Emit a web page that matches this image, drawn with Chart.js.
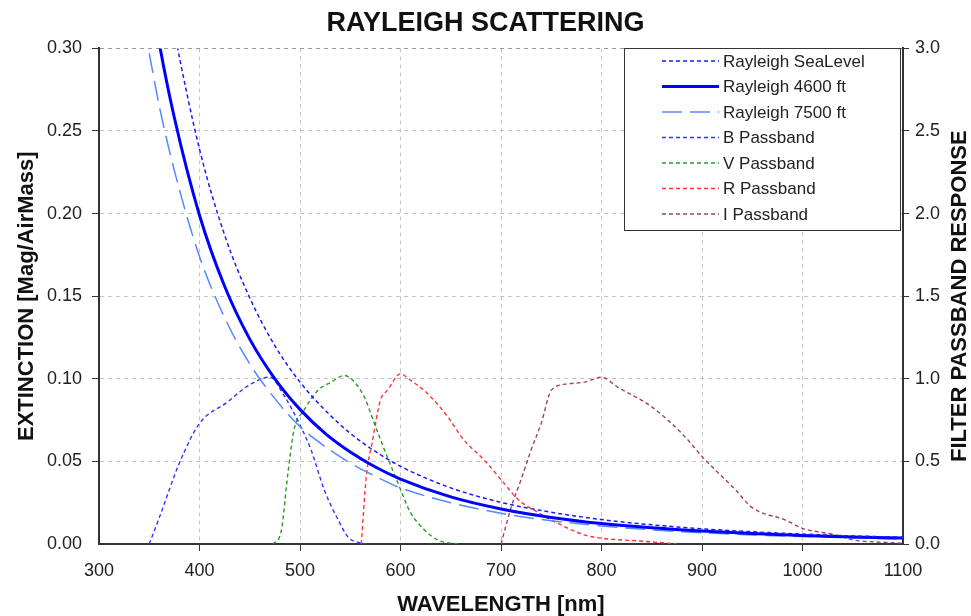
<!DOCTYPE html>
<html>
<head>
<meta charset="utf-8">
<script src="https://cdn.jsdelivr.net/npm/chart.js@4.4.1/dist/chart.umd.min.js"></script>
<style>
  html, body { margin: 0; padding: 0; background: #fff; }
  #wrap { width: 971px; height: 616px; }
</style>
</head>
<body>
<div id="wrap"><canvas id="myChart" width="971" height="616"></canvas></div>
<script>
// wavelengths [nm] for the rayleigh curves
const rayleighWl = [350, 360, 375, 400, 425, 450, 475, 500, 525, 550, 575, 600, 650, 700, 750, 800, 850, 900, 950, 1000, 1050, 1100];
const rayleighSea = [0.41, 0.36, 0.31, 0.239, 0.187, 0.149, 0.120, 0.098, 0.081, 0.067, 0.056, 0.047, 0.034, 0.0252, 0.0192, 0.0148, 0.0116, 0.0092, 0.0074, 0.0060, 0.0049, 0.0041];
const rayleigh4600 = [0.340, 0.303, 0.258, 0.199, 0.156, 0.124, 0.100, 0.0815, 0.067, 0.0557, 0.0466, 0.0393, 0.0285, 0.0212, 0.0161, 0.0124, 0.0098, 0.0078, 0.0063, 0.0051, 0.0042, 0.0036];
const rayleigh7500 = [0.297, 0.265, 0.226, 0.174, 0.137, 0.109, 0.088, 0.071, 0.059, 0.049, 0.041, 0.034, 0.025, 0.0186, 0.0141, 0.0109, 0.0086, 0.0068, 0.0055, 0.0045, 0.0037, 0.0030];

// filter passbands (right axis)
const bWl = [350, 360, 380, 400, 428, 444, 458, 470, 484, 500, 511, 524, 538, 548, 558, 568];
const bResp = [0, 0.16, 0.49, 0.73, 0.86, 0.94, 0.99, 1.01, 0.90, 0.72, 0.57, 0.33, 0.145, 0.04, 0.01, 0];
const vWl = [473, 481, 488, 494, 504, 518, 531, 544, 551, 564, 574, 584, 592, 600, 610, 624, 637, 657];
const vResp = [0, 0.07, 0.43, 0.69, 0.81, 0.93, 0.98, 1.02, 1.0, 0.89, 0.73, 0.57, 0.45, 0.33, 0.19, 0.085, 0.024, 0];
const rWl = [561, 566, 572, 580, 587, 600, 608, 627, 647, 663, 683, 700, 717, 737, 750, 783, 800, 833, 866, 875];
const rResp = [0, 0.41, 0.62, 0.87, 0.93, 1.03, 1.0, 0.91, 0.77, 0.63, 0.51, 0.39, 0.27, 0.19, 0.145, 0.055, 0.035, 0.02, 0.005, 0];
const iWl = [700, 710, 720, 730, 740, 750, 767, 783, 800, 816, 850, 883, 900, 933, 950, 983, 1000, 1033, 1050, 1083, 1100];
const iResp = [0, 0.22, 0.39, 0.57, 0.73, 0.93, 0.97, 0.98, 1.01, 0.95, 0.83, 0.65, 0.53, 0.33, 0.22, 0.145, 0.095, 0.055, 0.025, 0.01, 0.005];

// tick labels
const xTicks = [300, 400, 500, 600, 700, 800, 900, 1000, 1100];
const leftTicks = [0, 0.05, 0.10, 0.15, 0.20, 0.25, 0.30];
const rightTicks = [0, 0.5, 1.0, 1.5, 2.0, 2.5, 3.0];

const FONT = '"Liberation Sans", Arial, sans-serif';

function pts(xs, ys) {
  return xs.map((x, i) => ({ x: x, y: ys[i] }));
}

function series(label, xs, ys, axis, color, width, dash) {
  return {
    label: label,
    data: pts(xs, ys),
    yAxisID: axis,
    borderColor: color,
    borderWidth: width,
    borderDash: dash,
    pointRadius: 0,
    fill: false,
    cubicInterpolationMode: 'monotone',
    clip: 0
  };
}

// legend box drawn over the plot + right title reading upward, like the original
const boxLegend = {
  id: 'boxLegend',
  afterDraw(chart) {
    const ctx = chart.ctx;
    const x0 = 624, y0 = 48, w = 276, h = 182;
    ctx.save();
    ctx.fillStyle = '#fff';
    ctx.fillRect(x0, y0, w, h);
    ctx.strokeStyle = '#333';
    ctx.lineWidth = 1;
    ctx.strokeRect(x0 + 0.5, y0 + 0.5, w, h);
    ctx.font = '17px ' + FONT;
    ctx.textBaseline = 'middle';
    ctx.textAlign = 'left';
    chart.data.datasets.forEach((ds, i) => {
      const y = 61 + i * 25.5;
      ctx.beginPath();
      ctx.strokeStyle = ds.borderColor;
      ctx.lineWidth = ds.borderWidth;
      ctx.setLineDash(ds.borderDash || []);
      ctx.moveTo(662, y);
      ctx.lineTo(719, y);
      ctx.stroke();
      ctx.setLineDash([]);
      ctx.fillStyle = '#222';
      ctx.fillText(ds.label, 723, y + 1);
    });

    const area = chart.chartArea;
    ctx.translate(960, (area.top + area.bottom) / 2);
    ctx.rotate(-Math.PI / 2);
    ctx.font = 'bold 22px ' + FONT;
    ctx.fillStyle = '#111';
    ctx.textAlign = 'center';
    ctx.fillText('FILTER PASSBAND RESPONSE', 0, 0);
    ctx.restore();
  }
};

const ctx = document.getElementById('myChart').getContext('2d');
const myChart = new Chart(ctx, {
  type: 'line',
  data: {
    datasets: [
      series('Rayleigh SeaLevel', rayleighWl, rayleighSea, 'y', '#1a1aff', 1.5, [4, 3]),
      series('Rayleigh 4600 ft', rayleighWl, rayleigh4600, 'y', '#0000ff', 3, []),
      series('Rayleigh 7500 ft', rayleighWl, rayleigh7500, 'y', '#5588ff', 1.5, [20, 8]),
      series('B Passband', bWl, bResp, 'y2', '#3333ff', 1.4, [4, 3]),
      series('V Passband', vWl, vResp, 'y2', '#2a9a2a', 1.4, [4, 3]),
      series('R Passband', rWl, rResp, 'y2', '#ff3333', 1.4, [4, 3]),
      series('I Passband', iWl, iResp, 'y2', '#a04070', 1.4, [4, 3])
    ]
  },
  options: {
    responsive: false,
    animation: false,
    layout: { padding: 0 },
    plugins: {
      legend: { display: false },
      tooltip: { enabled: false },
      title: {
        display: true,
        text: 'RAYLEIGH SCATTERING',
        color: '#111',
        font: { family: FONT, size: 27, weight: 'bold' },
        padding: { top: 7, bottom: 9 }
      }
    },
    scales: {
      x: {
        type: 'linear',
        min: 300,
        max: 1100,
        afterBuildTicks: s => { s.ticks = xTicks.map(v => ({ value: v })); },
        afterFit: s => { s.height = 72; },
        ticks: {
          color: '#222',
          padding: 9,
          maxRotation: 0,
          font: { family: FONT, size: 18 },
          callback: v => String(v)
        },
        grid: {
          color: '#c4c4c4',
          tickLength: 7,
          tickColor: '#333',
          tickBorderDash: [],
          lineWidth: c => (c.tick && (c.tick.value === 300 || c.tick.value === 1100)) ? 0 : 1
        },
        border: { color: '#333', width: 2, dash: [4, 4] },
        title: {
          display: true,
          text: 'WAVELENGTH [nm]',
          color: '#111',
          font: { family: FONT, size: 22, weight: 'bold', lineHeight: 1 },
          padding: { top: 0, bottom: 0 }
        }
      },
      y: {
        type: 'linear',
        position: 'left',
        min: 0,
        max: 0.30,
        afterBuildTicks: s => { s.ticks = leftTicks.map(v => ({ value: v })); },
        afterFit: s => { s.width = 99; },
        ticks: {
          color: '#222',
          padding: 10,
          font: { family: FONT, size: 18 },
          callback: v => Number(v).toFixed(2)
        },
        grid: {
          color: c => (c.tick && c.tick.value === 0.30) ? '#999' : '#c4c4c4',
          tickLength: 7,
          tickColor: '#333',
          tickBorderDash: [],
          lineWidth: c => (c.tick && c.tick.value === 0) ? 0 : 1
        },
        border: { color: '#333', width: 2, dash: [4, 4] },
        title: {
          display: true,
          text: 'EXTINCTION [Mag/AirMass]',
          color: '#111',
          font: { family: FONT, size: 22, weight: 'bold', lineHeight: 1 },
          padding: { top: 16 }
        }
      },
      y2: {
        type: 'linear',
        position: 'right',
        min: 0,
        max: 3.0,
        afterBuildTicks: s => { s.ticks = rightTicks.map(v => ({ value: v })); },
        afterFit: s => { s.width = 68; },
        ticks: {
          color: '#222',
          padding: 6,
          font: { family: FONT, size: 18 },
          callback: v => Number(v).toFixed(1)
        },
        grid: {
          drawOnChartArea: false,
          tickLength: 6,
          tickColor: '#333'
        },
        border: { color: '#333', width: 2 }
      }
    }
  },
  plugins: [boxLegend]
});
</script>
</body>
</html>
